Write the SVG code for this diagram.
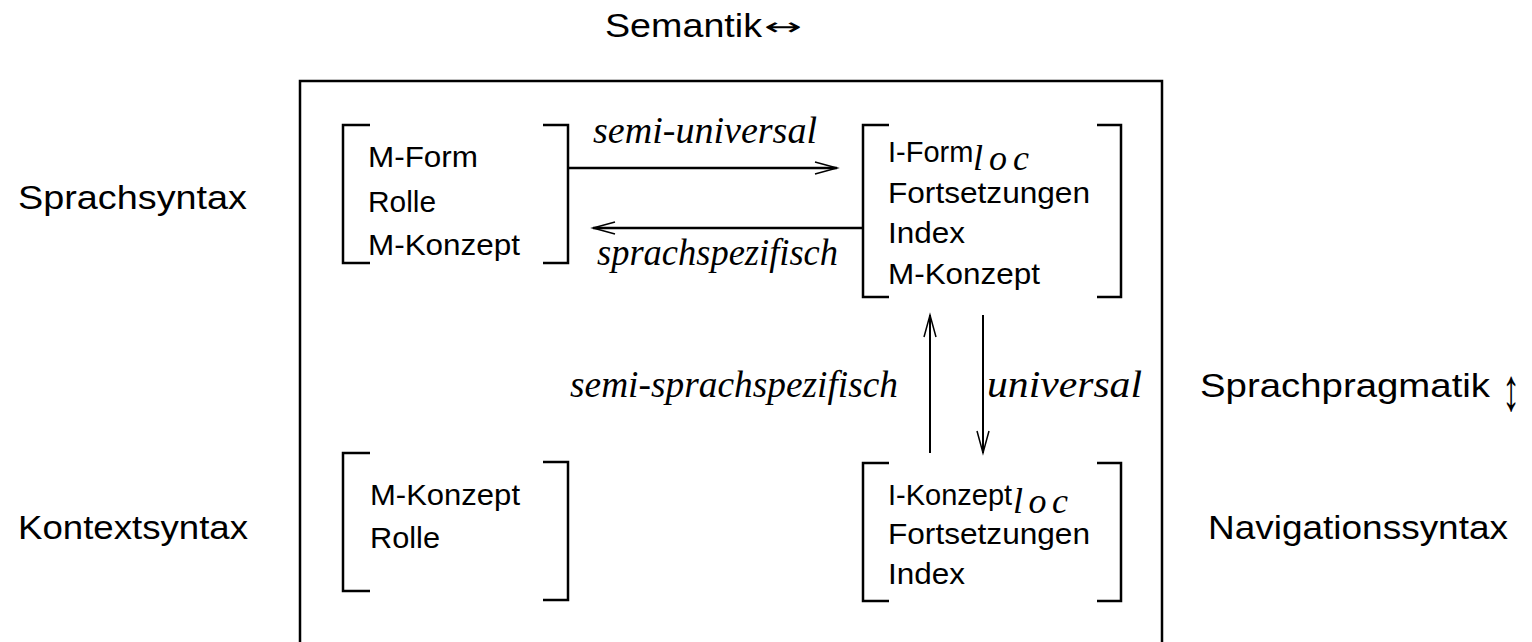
<svg xmlns="http://www.w3.org/2000/svg" width="1532" height="642" viewBox="0 0 1532 642">
<style>
.n{font-family:"Liberation Sans",Arial,sans-serif;font-size:29px;fill:#000}
.l{font-family:"Liberation Sans",Arial,sans-serif;font-size:34px;fill:#000}
.i{font-family:"Liberation Serif","Times New Roman",serif;font-style:italic;font-size:37px;fill:#000}
.sub{font-family:"Liberation Serif","Times New Roman",serif;font-style:italic;font-size:36px;fill:#000}
.sym{font-family:"Liberation Serif","DejaVu Serif",serif;fill:#000}
.sym2{font-family:"DejaVu Sans",sans-serif;fill:#000}
.br{fill:none;stroke:#000;stroke-width:2.5}
.frame{fill:none;stroke:#000;stroke-width:2.5}
.h{fill:none;stroke:#000;stroke-width:2.5}
.v{fill:none;stroke:#000;stroke-width:2}
</style>
<defs>
<marker id="ah" markerUnits="userSpaceOnUse" markerWidth="30" markerHeight="20" viewBox="-24 -10 30 20" refX="0" refY="0" orient="auto">
<path d="M-22,-6 L0,0 L-22,6" fill="none" stroke="#000" stroke-width="1.5"/>
</marker>
</defs>

<g id="labels">
<text class="l" x="605" y="37" textLength="157" lengthAdjust="spacingAndGlyphs">Semantik</text>
<text class="sym2" x="764" y="35" font-size="24" textLength="38" lengthAdjust="spacingAndGlyphs">↔</text>
<text class="l" x="18" y="209" textLength="229" lengthAdjust="spacingAndGlyphs">Sprachsyntax</text>
<text class="l" x="18" y="539" textLength="230" lengthAdjust="spacingAndGlyphs">Kontextsyntax</text>
<text class="l" x="1208" y="539" textLength="300" lengthAdjust="spacingAndGlyphs">Navigationssyntax</text>
<text class="l" x="1200" y="397" textLength="290" lengthAdjust="spacingAndGlyphs">Sprachpragmatik</text>
<text class="sym" x="1502" y="410" font-size="60" textLength="18" lengthAdjust="spacingAndGlyphs">↕</text>
</g>

<g id="frame">
<path class="frame" d="M300,650 V81 H1162 V650"/>
</g>

<g id="node-top-left">
<path class="br" d="M370,125 H343 V263 H370"/>
<path class="br" d="M543,125 H568 V263 H543"/>
<text class="n" x="368" y="167" textLength="110" lengthAdjust="spacingAndGlyphs">M-Form</text>
<text class="n" x="368" y="212" textLength="68" lengthAdjust="spacingAndGlyphs">Rolle</text>
<text class="n" x="368" y="255" textLength="152" lengthAdjust="spacingAndGlyphs">M-Konzept</text>
</g>

<g id="node-top-right">
<path class="br" d="M889,125 H863 V297 H889"/>
<path class="br" d="M1097,125 H1121 V297 H1097"/>
<text class="n" x="888" y="162">I-Form</text>
<text class="sub" x="973" y="170" textLength="56" lengthAdjust="spacing">loc</text>
<text class="n" x="888" y="203" textLength="202" lengthAdjust="spacingAndGlyphs">Fortsetzungen</text>
<text class="n" x="888" y="243" textLength="77" lengthAdjust="spacingAndGlyphs">Index</text>
<text class="n" x="888" y="284" textLength="152" lengthAdjust="spacingAndGlyphs">M-Konzept</text>
</g>

<g id="node-bottom-left">
<path class="br" d="M370,453 H343 V591 H370"/>
<path class="br" d="M543,462 H568 V600 H543"/>
<text class="n" x="370" y="505" textLength="150" lengthAdjust="spacingAndGlyphs">M-Konzept</text>
<text class="n" x="370" y="548" textLength="70" lengthAdjust="spacingAndGlyphs">Rolle</text>
</g>

<g id="node-bottom-right">
<path class="br" d="M889,463 H863 V601 H889"/>
<path class="br" d="M1097,463 H1121 V601 H1097"/>
<text class="n" x="888" y="505">I-Konzept</text>
<text class="sub" x="1013" y="513" textLength="55" lengthAdjust="spacing">loc</text>
<text class="n" x="888" y="544" textLength="202" lengthAdjust="spacingAndGlyphs">Fortsetzungen</text>
<text class="n" x="888" y="584" textLength="77" lengthAdjust="spacingAndGlyphs">Index</text>
</g>

<g id="connectors">
<line class="h" x1="568" y1="168" x2="837" y2="168" marker-end="url(#ah)"/>
<line class="h" x1="863" y1="228" x2="593" y2="228" marker-end="url(#ah)"/>
<line class="v" x1="930" y1="453" x2="930" y2="315" marker-end="url(#ah)"/>
<line class="v" x1="983" y1="315" x2="983" y2="453" marker-end="url(#ah)"/>
<text class="i" x="593" y="143" textLength="224" lengthAdjust="spacingAndGlyphs">semi-universal</text>
<text class="i" x="597" y="265" textLength="241" lengthAdjust="spacingAndGlyphs">sprachspezifisch</text>
<text class="i" x="570" y="397" textLength="328" lengthAdjust="spacingAndGlyphs">semi-sprachspezifisch</text>
<text class="i" x="987" y="397" textLength="155" lengthAdjust="spacingAndGlyphs">universal</text>
</g>
</svg>
